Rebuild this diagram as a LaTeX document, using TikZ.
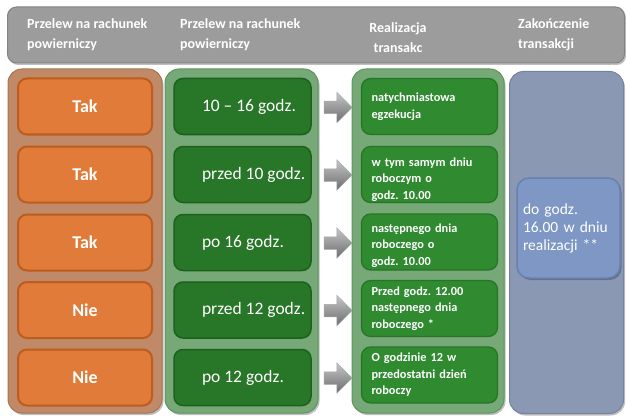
\documentclass[tikz,border=0pt]{standalone}
\usepackage{fontspec}
\setmainfont{Carlito}
\usetikzlibrary{shapes.arrows,shadows}
\definecolor{hdrfill}{HTML}{9C9C9C}
\definecolor{hdrline}{HTML}{828282}
\definecolor{colA}{HTML}{C08A68}
\definecolor{colAline}{HTML}{A87452}
\definecolor{orng}{HTML}{E07B39}
\definecolor{orngline}{HTML}{BC5C1E}
\definecolor{colG}{HTML}{77A877}
\definecolor{colGline}{HTML}{5F955F}
\definecolor{dgreen}{HTML}{287628}
\definecolor{dgreenline}{HTML}{1E601E}
\definecolor{mgreen}{HTML}{2F8A30}
\definecolor{mgreenline}{HTML}{267526}
\definecolor{colB}{HTML}{8A98B4}
\definecolor{colBline}{HTML}{7483A2}
\definecolor{bluebox}{HTML}{7E97C4}
\definecolor{blueline}{HTML}{6880AE}
\newcommand\gtext[1]{\makebox[125pt][l]{\hspace*{22pt}#1}}
\newcommand\dn[1]{\rule{0pt}{#1}}
\begin{document}
\frenchspacing
\begin{tikzpicture}[x=1pt,y=-1pt,
  shadowed/.style={drop shadow={shadow xshift=1.5pt,shadow yshift=-2pt,opacity=0.25,fill=black}},
  column/.style={rounded corners=14pt,line width=1pt,shadowed,inner sep=0pt},
  hdrtext/.style={text=white,font=\fontsize{14}{20}\selectfont\bfseries,inner sep=0pt},
  obox/.style={fill=orng,draw=orngline,line width=2pt,rounded corners=9pt,minimum width=134pt,minimum height=56pt,
    text=white,font=\fontsize{18}{20}\selectfont\bfseries,inner sep=0pt},
  gbox/.style={fill=dgreen,draw=dgreenline,line width=1.5pt,rounded corners=9pt,minimum width=136pt,minimum height=56pt,
    text=white,font=\fontsize{17.5}{20}\selectfont,inner xsep=6pt,inner ysep=0pt},
  rbox/.style={fill=mgreen,draw=mgreenline,line width=1.2pt,rounded corners=9pt,minimum width=136pt,minimum height=56pt,
    text=white,font=\fontsize{12.3}{16.5}\selectfont\bfseries,inner xsep=10pt,inner ysep=0pt,text width=116pt,align=left},
  blockarrow/.style={single arrow,single arrow head extend=9pt,minimum height=28pt,inner xsep=0pt,inner ysep=6pt,
    text height=0pt,text depth=0pt,top color=gray!45,bottom color=gray!85!black,draw=gray!70,line width=0.5pt}
]
\useasboundingbox (0,0) rectangle (626,417);
% header
\node[column,rounded corners=9pt,fill=hdrfill,draw=hdrline,minimum width=617pt,minimum height=56pt] (hdr) at (316,35) {};
\node[hdrtext,align=left,anchor=west] (h1) at (27,35) {Przelew na rachunek\\powierniczy};
\node[hdrtext,align=left,anchor=west] (h2) at (180,35) {Przelew na rachunek\\powierniczy};
\node[hdrtext,align=center] (h3) at (398,37.5) {Realizacja\\transakc};
\node[hdrtext,align=left,anchor=west] (h4) at (518,35) {Zakończenie\\transakcji};
% columns
\node[column,fill=colA,draw=colAline,minimum width=154pt,minimum height=344pt] (cA) at (85,241) {};
\node[column,fill=colG,draw=colGline,minimum width=153pt,minimum height=344pt] (cB) at (241.5,241) {};
\node[column,fill=colG,draw=colGline,minimum width=152pt,minimum height=344pt] (cC) at (428,241) {};
\node[column,fill=colB,draw=colBline,minimum width=114pt,minimum height=342pt] (cD) at (566.5,242.5) {};
% orange boxes
\node[obox] (o1) at (85,106.5) {Tak};
\node[obox] (o2) at (85,174.5) {Tak};
\node[obox] (o3) at (85,242.5) {Tak};
\node[obox] (o4) at (85,310) {Nie};
\node[obox] (o5) at (85,377.5) {Nie};
% green boxes
\node[gbox] (g1) at (242.5,106.5) {\gtext{10 – 16 godz.}};
\node[gbox] (g2) at (242.5,174.5) {\gtext{przed 10 godz.}};
\node[gbox] (g3) at (242.5,242.5) {\gtext{po 16 godz.}};
\node[gbox] (g4) at (242.5,310) {\gtext{przed 12 godz.}};
\node[gbox] (g5) at (242.5,377.5) {\gtext{po 12 godz.}};
% right boxes
\node[rbox] (r1) at (429.5,106.5) {natychmiastowa\\egzekucja};
\node[rbox] (r2) at (429.5,174.5) {\dn{19pt}w tym samym dniu\\roboczym o\\godz. 10.00};
\node[rbox] (r3) at (429.5,242) {\dn{16pt}następnego dnia\\roboczego o\\godz. 10.00};
\node[rbox] (r4) at (429.5,308.5) {Przed godz. 12.00\\następnego dnia\\roboczego *};
\node[rbox] (r5) at (429.5,375) {O godzinie 12 w\\przedostatni dzień\\roboczy};
% arrows
\node[blockarrow] (a1) at (335,107.5) {};
\node[blockarrow] (a2) at (335,175) {};
\node[blockarrow] (a3) at (335,243) {};
\node[blockarrow] (a4) at (335,310.5) {};
\node[blockarrow] (a5) at (335,378) {};
% blue box
\node[fill=bluebox,draw=blueline,line width=1.5pt,rounded corners=12pt,minimum width=103pt,minimum height=100pt,
  text=white,font=\fontsize{15.5}{18}\selectfont,inner xsep=6pt,text width=91pt,align=left,shadowed] (b1) at (568.5,228)
  {do godz.\\16.00 w dniu\\realizacji **};
\end{tikzpicture}
\end{document}
